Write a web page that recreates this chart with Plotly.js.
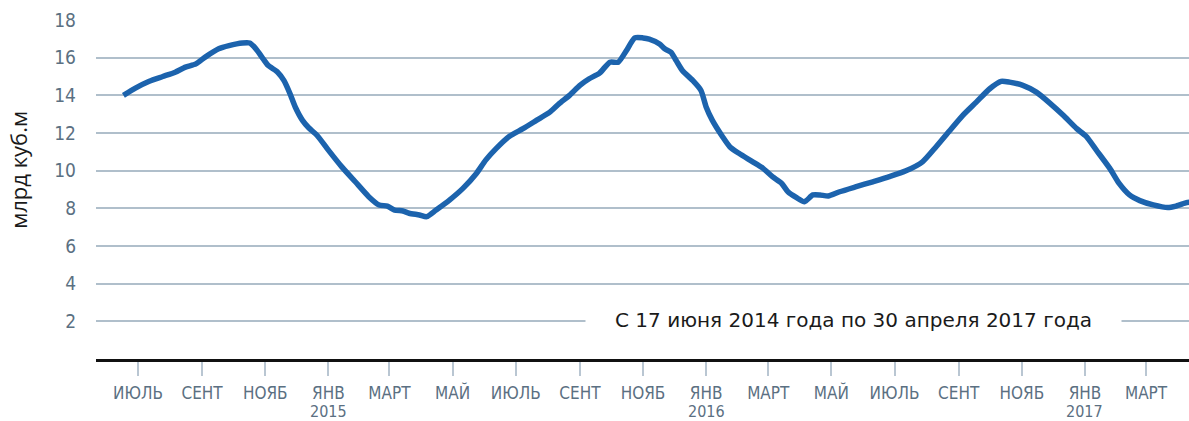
<!DOCTYPE html>
<html>
<head>
<meta charset="utf-8">
<script src="https://cdn.plot.ly/plotly-3.0.1.min.js"></script>
<style>
  html, body { margin: 0; padding: 0; background: #ffffff; }
  #chart { width: 1189px; height: 421px; }
</style>
</head>
<body>
<div id="chart"></div>
<script>
// Dates of the readings
const dates = [
  '2014-06-17','2014-06-29','2014-07-12','2014-07-25','2014-08-06','2014-08-16','2014-08-26',
  '2014-09-04','2014-09-17','2014-09-27','2014-10-10','2014-10-17','2014-10-23','2014-10-30',
  '2014-11-04','2014-11-13','2014-11-19','2014-11-25','2014-11-30','2014-12-07','2014-12-13',
  '2014-12-21','2015-01-01','2015-01-14','2015-01-27','2015-02-09','2015-02-19','2015-02-27',
  '2015-03-06','2015-03-14','2015-03-20','2015-03-30','2015-04-06','2015-04-15','2015-04-28',
  '2015-05-11','2015-05-24','2015-06-02','2015-06-12','2015-06-25','2015-07-08','2015-07-21',
  '2015-08-03','2015-08-12','2015-08-22','2015-09-01','2015-09-10','2015-09-20','2015-09-30',
  '2015-10-08','2015-10-16','2015-10-24','2015-11-01','2015-11-07','2015-11-17','2015-11-22',
  '2015-11-28','2015-12-03','2015-12-09','2015-12-19','2015-12-27','2016-01-01','2016-01-07',
  '2016-01-17','2016-01-24','2016-02-02','2016-02-15','2016-02-25','2016-03-05','2016-03-14',
  '2016-03-20','2016-03-28','2016-04-05','2016-04-13','2016-04-20','2016-04-28','2016-05-09',
  '2016-05-25','2016-06-10','2016-06-26','2016-07-12','2016-07-28','2016-08-10','2016-08-23',
  '2016-09-05','2016-09-18','2016-10-01','2016-10-12','2016-10-20','2016-11-02','2016-11-15',
  '2016-11-28','2016-12-11','2016-12-24','2017-01-02','2017-01-12','2017-01-25','2017-02-03',
  '2017-02-13','2017-02-23','2017-03-08','2017-03-22','2017-03-30','2017-04-09','2017-04-12'
];
// Volume, bln cubic metres
const volumes = [
  14.0, 14.4, 14.75, 15.0, 15.23, 15.5, 15.67,
  16.03, 16.47, 16.64, 16.78, 16.78, 16.47, 15.94,
  15.58, 15.23, 14.79, 14.08, 13.38, 12.67, 12.28,
  11.88, 11.09, 10.2, 9.41, 8.62, 8.18, 8.12,
  7.91, 7.86, 7.74, 7.65, 7.56, 7.91, 8.44,
  9.06, 9.85, 10.56, 11.17, 11.83, 12.23, 12.67,
  13.11, 13.56, 14.0, 14.53, 14.88, 15.18, 15.76,
  15.76, 16.38, 17.05, 17.05, 16.99, 16.73, 16.47,
  16.29, 15.85, 15.32, 14.79, 14.26, 13.38, 12.67,
  11.79, 11.26, 10.91, 10.47, 10.12, 9.68, 9.32,
  8.88, 8.58, 8.35, 8.71, 8.71, 8.65, 8.88,
  9.15, 9.41, 9.68, 9.99, 10.47, 11.26, 12.11,
  12.94, 13.64, 14.35, 14.74, 14.70, 14.53, 14.17,
  13.59, 12.94, 12.23, 11.83, 11.09, 10.12, 9.32,
  8.71, 8.41, 8.18, 8.04, 8.12, 8.30, 8.33
];
// Axis ticks
const tickDates = [
  '2014-07-01','2014-09-01','2014-11-01','2015-01-01','2015-03-01','2015-05-01',
  '2015-07-01','2015-09-01','2015-11-01','2016-01-01','2016-03-01','2016-05-01',
  '2016-07-01','2016-09-01','2016-11-01','2017-01-01','2017-03-01'
];
const tickLabels = [
  'ИЮЛЬ','СЕНТ','НОЯБ','ЯНВ','МАРТ','МАЙ',
  'ИЮЛЬ','СЕНТ','НОЯБ','ЯНВ','МАРТ','МАЙ',
  'ИЮЛЬ','СЕНТ','НОЯБ','ЯНВ','МАРТ'
];
const yearDates = ['2015-01-01', '2016-01-01', '2017-01-01'];
const yearLabels = ['2015', '2016', '2017'];
const yTicks = [2, 4, 6, 8, 10, 12, 14, 16, 18];
const yTitle = 'млрд куб.м';
const periodNote = 'С 17 июня 2014 года по 30 апреля 2017 года';

const labelFont = 'DejaVu Sans Condensed, DejaVu Sans, sans-serif';
const labelColor = '#5b7082';

const trace = {
  x: dates,
  y: volumes,
  type: 'scatter',
  mode: 'lines',
  line: { color: '#1c63ad', width: 5.5, shape: 'spline', smoothing: 0.6 },
  hoverinfo: 'x+y'
};

const annotations = [
  {
    text: periodNote,
    xref: 'paper', yref: 'y',
    x: 0.6926, y: 2.07,
    xanchor: 'center', yanchor: 'middle',
    showarrow: false,
    width: 531,
    align: 'center',
    bgcolor: '#ffffff',
    borderpad: 2,
    font: { family: 'DejaVu Sans, sans-serif', size: 20, color: '#1a1a1a' }
  },
  {
    text: yTitle,
    xref: 'paper', yref: 'y',
    x: -0.0714, y: 10.04,
    xanchor: 'center', yanchor: 'middle',
    textangle: -90,
    showarrow: false,
    font: { family: 'Open Sans, sans-serif', size: 22, color: '#1a1a1a' }
  }
];
yearDates.forEach((d, i) => {
  annotations.push({
    text: yearLabels[i],
    xref: 'x', yref: 'paper',
    x: d, y: -0.1534,
    xanchor: 'center', yanchor: 'middle',
    showarrow: false,
    font: { family: labelFont, size: 16, color: labelColor }
  });
});

const layout = {
  width: 1189,
  height: 421,
  margin: { l: 96, r: 0, t: 20, b: 62, pad: 0 },
  paper_bgcolor: '#ffffff',
  plot_bgcolor: '#ffffff',
  showlegend: false,
  font: { family: labelFont, color: labelColor },
  xaxis: {
    type: 'date',
    range: ['2014-05-21 12:00', '2017-04-11 12:00'],
    tickvals: tickDates,
    ticktext: tickLabels,
    ticks: 'outside',
    ticklen: 14,
    tickwidth: 2,
    tickcolor: '#b9c6d2',
    ticklabelstandoff: 3,
    tickfont: { family: labelFont, size: 17, color: labelColor },
    showgrid: false,
    zeroline: false,
    showline: true,
    linecolor: '#111111',
    linewidth: 3,
    fixedrange: true
  },
  yaxis: {
    range: [0, 18],
    tickvals: yTicks,
    ticks: '',
    ticklabelstandoff: 19,
    tickfont: { family: labelFont, size: 19, color: labelColor },
    showgrid: true,
    gridcolor: '#b0bfcb',
    gridwidth: 2,
    zeroline: false,
    showline: false,
    fixedrange: true
  },
  annotations: annotations
};

Plotly.newPlot('chart', [trace], layout, { displayModeBar: false, staticPlot: true });
</script>
</body>
</html>
